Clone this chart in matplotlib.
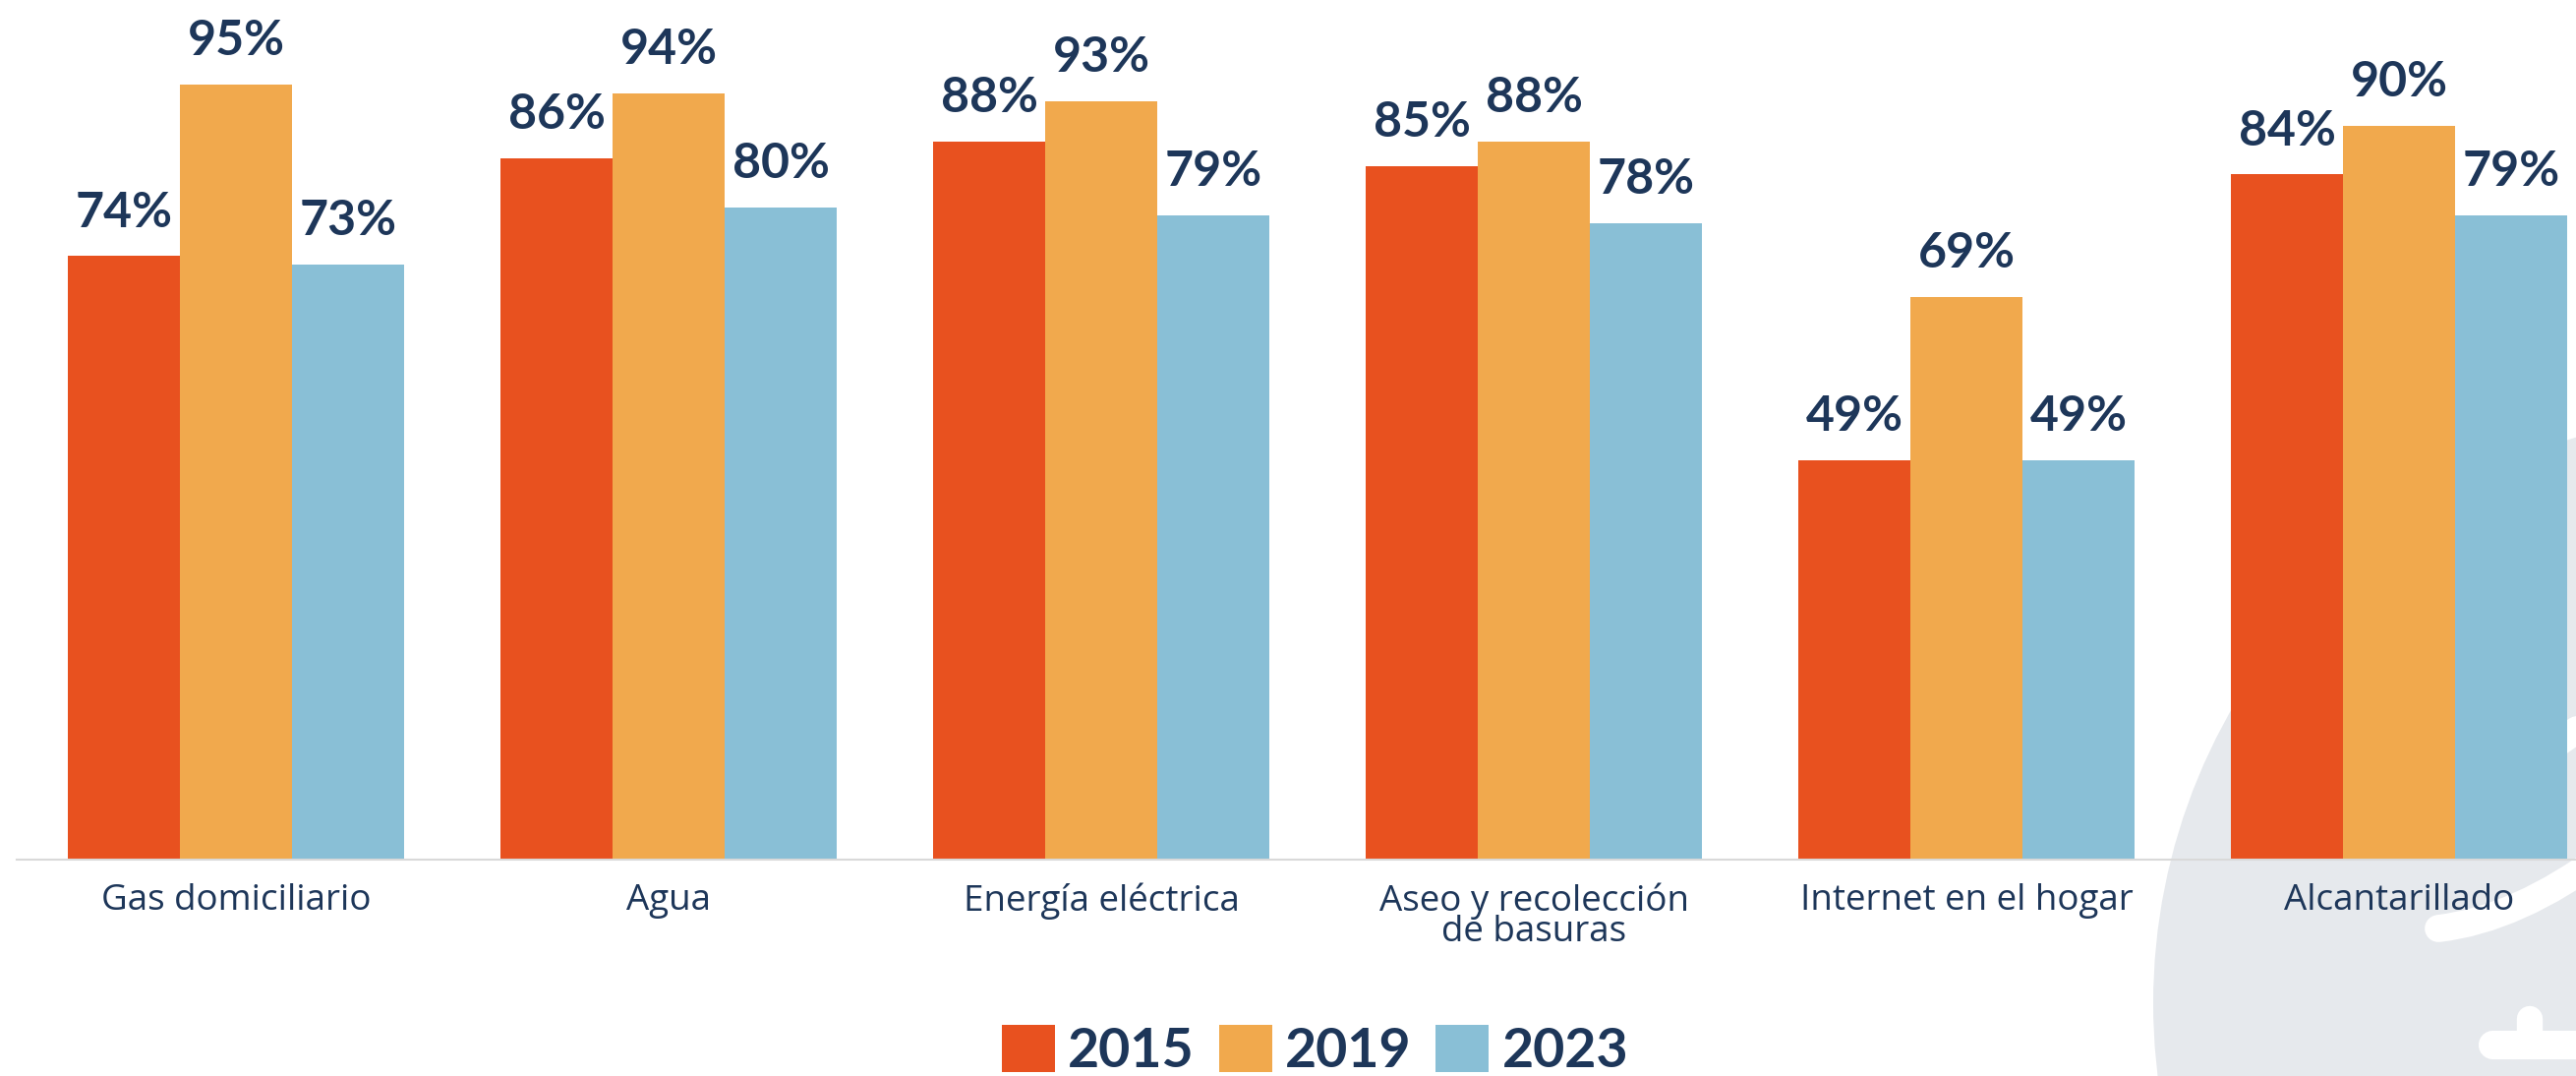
import numpy as np
import matplotlib
matplotlib.use('Agg')
import matplotlib.pyplot as plt
from matplotlib.patches import Circle, PathPatch
from matplotlib.path import Path

categories = ['Gas domiciliario', 'Agua', 'Energía eléctrica',
              'Aseo y recolección\nde basuras', 'Internet en el hogar', 'Alcantarillado']
years = ['2015', '2019', '2023']
v2015 = [74, 86, 88, 85, 49, 84]
v2019 = [95, 94, 93, 88, 69, 90]
v2023 = [73, 80, 79, 78, 49, 79]

colors = ['#E8511F', '#F1A94D', '#89BFD6']
navy = '#1D3659'

W, H = 2620, 1094
fig = plt.figure(figsize=(W / 100, H / 100), dpi=100)

# background decoration (grey circle with white strokes), in pixel coords
bg = fig.add_axes([0, 0, 1, 1], zorder=0)
bg.set_xlim(0, W)
bg.set_ylim(H, 0)
bg.axis('off')
bg.add_patch(Circle((2790, 1020), 600, color='#E6E9ED', lw=0))
arc = Path([(2480, 944), (2560, 935), (2650, 868)],
           [Path.MOVETO, Path.CURVE3, Path.CURVE3])
bg.add_patch(PathPatch(arc, fc='none', ec='white', lw=20, capstyle='round'))
bg.plot([2595, 2660], [760, 715], color='white', lw=20, solid_capstyle='round')
bg.plot([2535, 2640], [1062, 1062], color='white', lw=21, solid_capstyle='round')
bg.plot([2573, 2573], [1036, 1062], color='white', lw=19, solid_capstyle='round')
bg.plot([2628, 2628], [1008, 1100], color='white', lw=20, solid_capstyle='round')

# main chart
ax = fig.add_axes([17 / W, (H - 874) / H, 1 - 17 / W, 874 / H], zorder=1)
ax.patch.set_visible(False)

x = np.arange(len(categories))
width = 0.259
series = [v2015, v2019, v2023]
for i, (vals, col, yr) in enumerate(zip(series, colors, years)):
    bars = ax.bar(x + (i - 1) * width, vals, width, color=col, label=yr, lw=0)
    for b, v in zip(bars, vals):
        ax.annotate(f'{v}%', (b.get_x() + b.get_width() / 2, v),
                    xytext=(0, 21.5), textcoords='offset points',
                    ha='center', va='baseline', fontsize=36,
                    fontweight='bold', family='Lato', color=navy)

ax.set_xlim(-0.507, 5.409)
ax.set_ylim(0, 105.4)
ax.set_xticks(x)
ax.set_xticklabels(categories, fontsize=26.5, family='Open Sans', color=navy,
                   linespacing=0.8)
ax.tick_params(axis='x', length=0, pad=17)
ax.set_yticks([])
for s in ['top', 'left', 'right']:
    ax.spines[s].set_visible(False)
ax.spines['bottom'].set_color('#D9D9D9')
ax.spines['bottom'].set_linewidth(1.5)

leg = ax.legend(loc='center', bbox_to_anchor=(0.5105, 0.0238),
                bbox_transform=fig.transFigure, ncol=3, frameon=False,
                handlelength=0.97, handleheight=0.97, handletextpad=0.24,
                columnspacing=0.45, borderpad=0, borderaxespad=0,
                prop={'family': 'Lato', 'weight': 'bold', 'size': 40})
for t in leg.get_texts():
    t.set_color(navy)

fig.savefig('out.png', dpi=100)
